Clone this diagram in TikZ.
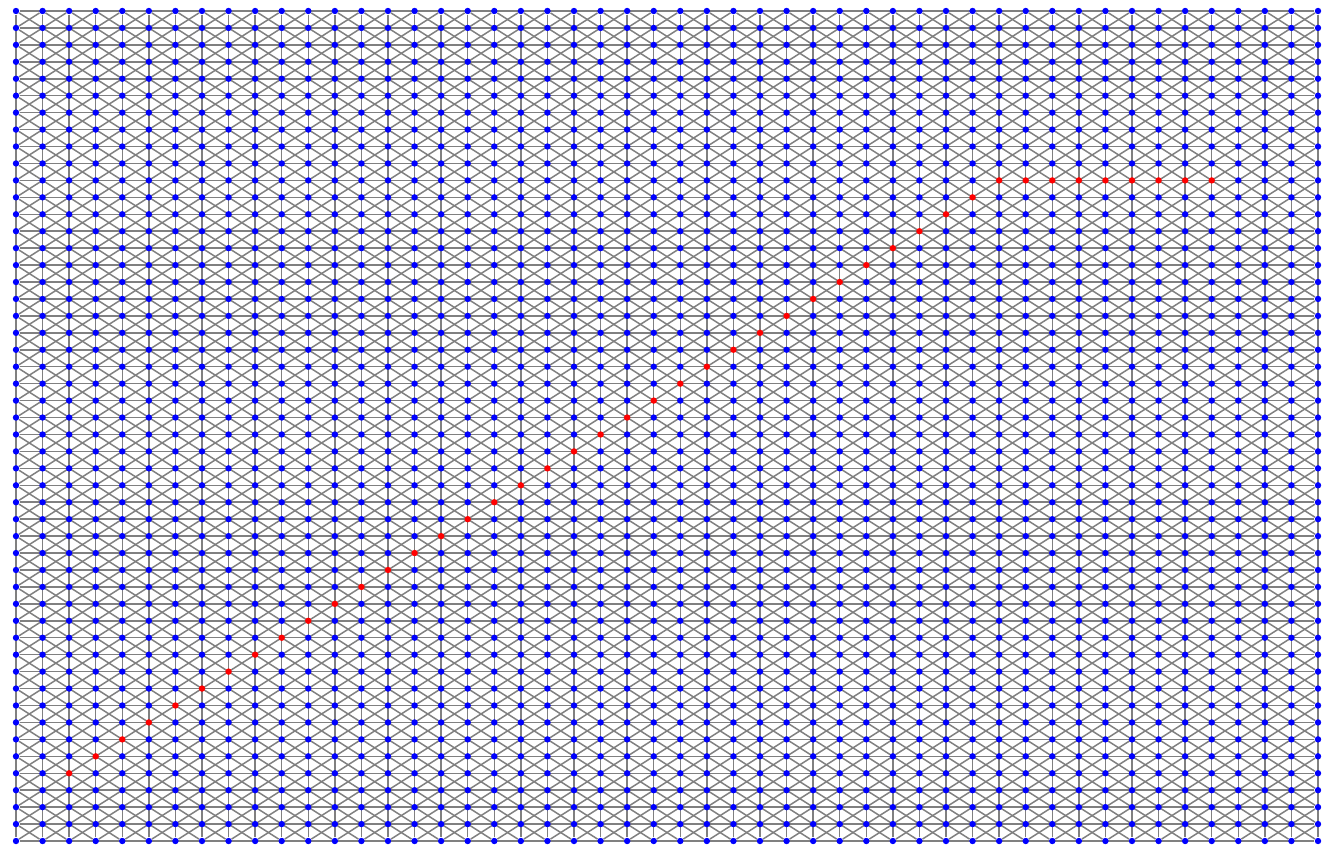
\documentclass[tikz,border=0pt]{standalone}
\usepackage{tikz}
\usetikzlibrary{backgrounds}

\tikzset{
  vtx/.style={circle,fill=blue,inner sep=0pt,minimum size=3.2pt},
  pathvtx/.style={circle,fill=red,inner sep=0pt,minimum size=3.2pt},
  edge/.style={draw=gray,line width=0.75pt},
}

\begin{document}
\begin{tikzpicture}[x=13.2857pt,y=-8.4694pt]
\useasboundingbox (-0.6022,-0.6494) rectangle (49.527,49.531);
% vertices, the marked path in red
\foreach \i in {0,...,49}{
  \foreach \j in {0,...,49}{
    \pgfmathtruncatemacro\onpath{((\i>=2 && \i<=37 && \j==47-\i) || (\i>=37 && \i<=45 && \j==10)) ? 1 : 0}
    \ifnum\onpath=1
      \node[pathvtx] (v-\i-\j) at (\i,\j) {};
    \else
      \node[vtx] (v-\i-\j) at (\i,\j) {};
    \fi
  }
}
\begin{pgfonlayer}{background}
% rows and columns
\foreach \k in {0,...,49}{
  \draw[edge] (v-0-\k) -- (v-49-\k);
  \draw[edge] (v-\k-0) -- (v-\k-49);
}
% diagonals
\foreach \d in {-48,...,48}{
  \pgfmathtruncatemacro\ia{max(0,\d)}
  \pgfmathtruncatemacro\ja{\ia-\d}
  \pgfmathtruncatemacro\ib{min(49,49+\d)}
  \pgfmathtruncatemacro\jb{\ib-\d}
  \draw[edge] (v-\ia-\ja) -- (v-\ib-\jb);
}
\foreach \s in {1,...,97}{
  \pgfmathtruncatemacro\ia{max(0,\s-49)}
  \pgfmathtruncatemacro\ja{\s-\ia}
  \pgfmathtruncatemacro\ib{min(49,\s)}
  \pgfmathtruncatemacro\jb{\s-\ib}
  \draw[edge] (v-\ia-\ja) -- (v-\ib-\jb);
}
\end{pgfonlayer}
\end{tikzpicture}
\end{document}
